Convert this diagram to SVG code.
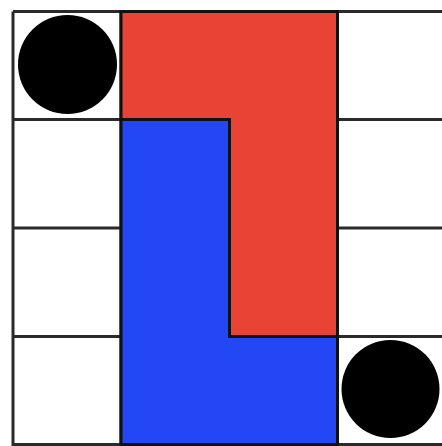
<svg xmlns="http://www.w3.org/2000/svg" width="442" height="446" viewBox="0 0 442 446">
<style>
.grid{fill:none;stroke:#2a2a2a;stroke-width:3}
.piece{stroke:#111;stroke-width:3;stroke-linejoin:miter}
.dot{fill:#000}
</style>
<rect x="0" y="0" width="442" height="446" fill="#fff"/>
<g id="grid" class="grid">
<line x1="13" y1="11.5" x2="13" y2="446"/>
<line x1="121" y1="11.5" x2="121" y2="446"/>
<line x1="229.5" y1="11.5" x2="229.5" y2="446"/>
<line x1="337.5" y1="11.5" x2="337.5" y2="446"/>
<line x1="13" y1="11.5" x2="442" y2="11.5"/>
<line x1="13" y1="119.5" x2="442" y2="119.5"/>
<line x1="13" y1="228" x2="442" y2="228"/>
<line x1="13" y1="336.5" x2="442" y2="336.5"/>
<line x1="13" y1="444.5" x2="442" y2="444.5"/>
</g>
<g id="red-piece">
<polygon class="piece" fill="#E84334" points="121,11.5 337.5,11.5 337.5,336.5 229.5,336.5 229.5,119.5 121,119.5"/>
</g>
<g id="blue-piece">
<polygon class="piece" fill="#2347F5" points="121,119.5 229.5,119.5 229.5,336.5 337.5,336.5 337.5,444.5 121,444.5"/>
</g>
<g id="dot-top-left">
<circle class="dot" cx="67.5" cy="64.5" r="49.5"/>
</g>
<g id="dot-bottom-right">
<circle class="dot" cx="390.5" cy="389" r="49"/>
</g>
<g id="connectors"></g>
</svg>
